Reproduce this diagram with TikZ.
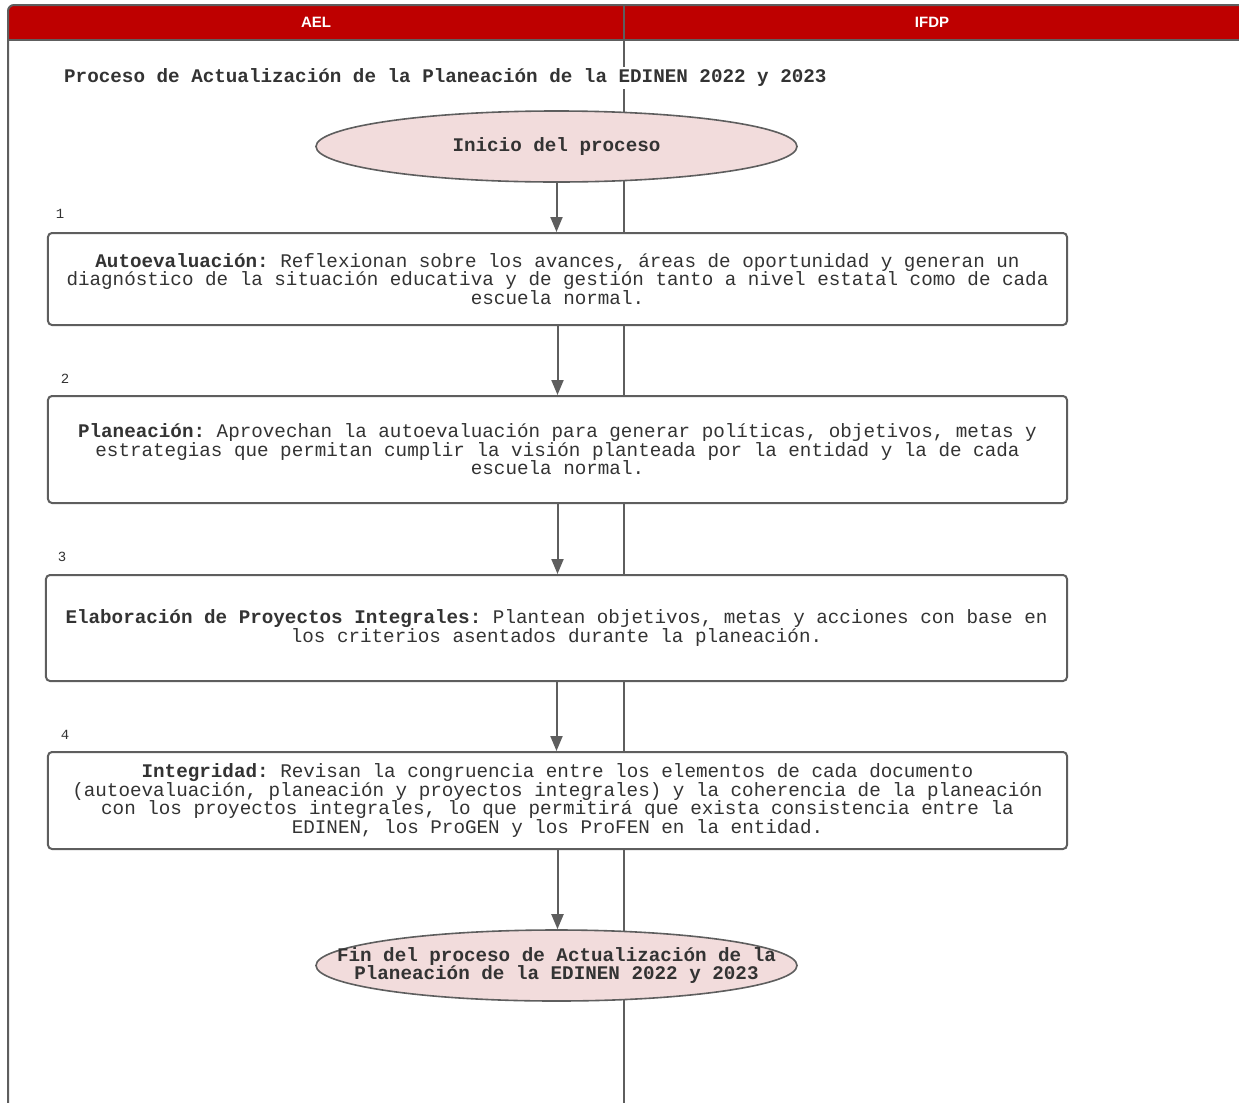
\documentclass[tikz,border=0pt]{standalone}
\usepackage{fontspec}
\newfontfamily\monof{Liberation Mono}
\newfontfamily\sansf{Liberation Sans}
\usetikzlibrary{shapes.geometric,arrows.meta}
\definecolor{lanered}{RGB}{190,0,0}
\definecolor{edgegray}{RGB}{94,94,94}
\definecolor{txtgray}{RGB}{51,51,51}
\definecolor{pinkfill}{RGB}{242,220,220}
\frenchspacing
\begin{document}
\frenchspacing
\begin{tikzpicture}[x=1bp,y=-1bp,
  bodyfont/.style={font=\monof\frenchspacing\fontsize{19.25bp}{18.5bp}\selectfont},
  stepbox/.style={draw=edgegray, line width=2bp, fill=white, rounded corners=4bp,
    inner sep=0pt, align=center, text=txtgray, bodyfont},
  termshape/.style={draw=edgegray, line width=1.6bp, fill=pinkfill, ellipse,
    minimum width=481bp, minimum height=71bp, inner sep=0pt},
  termtext/.style={align=center, text=txtgray, inner sep=0pt,
    font=\monof\bfseries\frenchspacing\fontsize{19.25bp}{18.5bp}\selectfont},
  numlabel/.style={text=txtgray, inner sep=0pt, font=\monof\fontsize{14bp}{14bp}\selectfont},
  headtext/.style={text=white, inner sep=0pt, font=\sansf\bfseries\fontsize{15bp}{15bp}\selectfont},
  arr/.style={draw=edgegray, line width=2bp, -{Triangle[width=12bp,length=15bp]}}]
\useasboundingbox (0,0) rectangle (1239,1103);
% pool header
\fill[lanered] (8,40) [rounded corners=6bp] -- (8,5) [sharp corners] -- (1241,5) -- (1241,40) -- cycle;
\draw[edgegray, line width=2bp] (8,1110) [rounded corners=6bp] -- (8,5) [sharp corners] -- (1241,5);
\draw[edgegray, line width=2bp] (8,40) -- (1241,40);
\draw[edgegray, line width=2bp] (624,5) -- (624,1110);
\node[headtext] (hael) at (316,22) {AEL};
\node[headtext] (hifdp) at (932,22) {IFDP};
% title
\node[anchor=west, fill=white, inner sep=2bp, text=txtgray,
  font=\monof\bfseries\frenchspacing\fontsize{19.25bp}{18.5bp}\selectfont] (title) at (62,78)
  {Proceso de Actualización de la Planeación de la EDINEN 2022 y 2023};
% start
\node[termshape] (ini) at (556.5,146.5) {};
\node[termtext] (initext) at (ini) {Inicio del proceso};
% steps
\node[numlabel] (n1) at (60,214) {1};
\node[stepbox, minimum width=1019bp, minimum height=92bp] (b1) at (557.5,279)
  {\textbf{Autoevaluación:} Reflexionan sobre los avances, áreas de oportunidad y generan un\\
   diagnóstico de la situación educativa y de gestión tanto a nivel estatal como de cada\\
   escuela normal.};
\node[numlabel] (n2) at (65,379) {2};
\node[stepbox, minimum width=1019bp, minimum height=107bp] (b2) at (557.5,449.5)
  {\textbf{Planeación:} Aprovechan la autoevaluación para generar políticas, objetivos, metas y\\
   estrategias que permitan cumplir la visión planteada por la entidad y la de cada\\
   escuela normal.};
\node[numlabel] (n3) at (62,557) {3};
\node[stepbox, minimum width=1021bp, minimum height=106bp] (b3) at (556.5,628)
  {\textbf{Elaboración de Proyectos Integrales:} Plantean objetivos, metas y acciones con base en\\
   los criterios asentados durante la planeación.};
\node[numlabel] (n4) at (65,735) {4};
\node[stepbox, minimum width=1019bp, minimum height=97bp] (b4) at (557.5,800.5)
  {\textbf{Integridad:} Revisan la congruencia entre los elementos de cada documento\\
   (autoevaluación, planeación y proyectos integrales) y la coherencia de la planeación\\
   con los proyectos integrales, lo que permitirá que exista consistencia entre la\\
   EDINEN, los ProGEN y los ProFEN en la entidad.};
% end
\node[termshape] (fin) at (556.5,965.5) {};
\node[termtext] (fintext) at (fin) {Fin del proceso de Actualización de la\\
  Planeación de la EDINEN 2022 y 2023};
% connectors
\draw[arr] (ini.south) -- (ini.south |- b1.north);
\draw[arr] (b1.south) -- (b1.south |- b2.north);
\draw[arr] (b2.south) -- (b2.south |- b3.north);
\draw[arr] (b3.south) -- (b3.south |- b4.north);
\draw[arr] (b4.south) -- (b4.south |- fin.north);
\end{tikzpicture}
\end{document}
